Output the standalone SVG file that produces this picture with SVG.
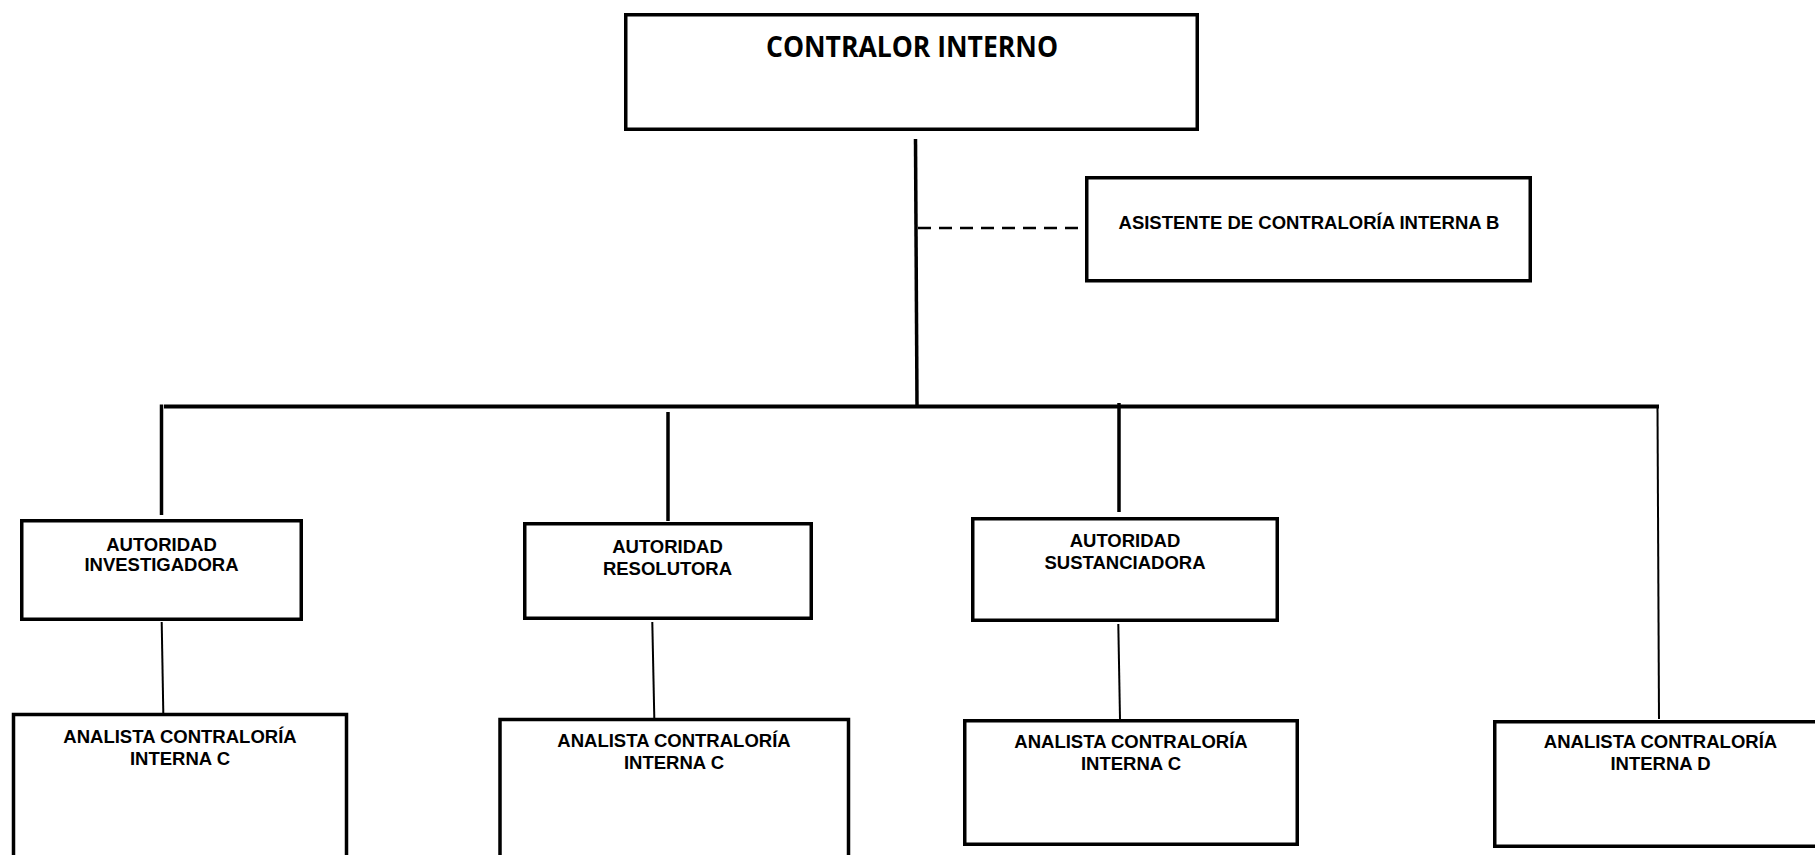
<svg xmlns="http://www.w3.org/2000/svg" width="1815" height="855" viewBox="0 0 1815 855">
<style>
.box{fill:#fff;stroke:#000;stroke-width:3.5}
.t{font-family:"Liberation Sans",Arial,sans-serif;font-weight:bold;font-size:18.5px;fill:#000;text-anchor:middle}
.title{font-family:"Open Sans",Lato,sans-serif;font-weight:bold;font-size:28.5px;fill:#000;text-anchor:middle}
.thick{stroke:#000;stroke-width:3.5;fill:none}
.thin{stroke:#000;stroke-width:2;fill:none}
.dash{stroke:#000;stroke-width:2.5;stroke-dasharray:13 8;fill:none}
</style>
<rect width="1815" height="855" fill="#fff"/>
<g id="connectors">
<line class="thick" x1="915.5" y1="139" x2="917" y2="407"/>
<line class="dash" x1="918" y1="228" x2="1078" y2="228"/>
<line x1="164" y1="406.5" x2="1659" y2="406.5" stroke="#000" stroke-width="4"/>
<line class="thick" x1="161.5" y1="404.5" x2="161.5" y2="515"/>
<line class="thick" x1="668" y1="412" x2="668" y2="521"/>
<line class="thick" x1="1119" y1="403" x2="1119" y2="512"/>
<line class="thin" x1="1657.5" y1="406" x2="1659" y2="719"/>
<line class="thin" x1="161.7" y1="622" x2="163.3" y2="713"/>
<line class="thin" x1="652.3" y1="622" x2="654.3" y2="718"/>
<line class="thin" x1="1118.3" y1="624" x2="1120" y2="719"/>
</g>
<g id="contralor">
<rect class="box" x="625.75" y="14.75" width="571.5" height="114.5"/>
<text class="title" x="912" y="57" textLength="292" lengthAdjust="spacingAndGlyphs">CONTRALOR INTERNO</text>
</g>
<g id="asistente">
<rect class="box" x="1086.75" y="177.75" width="443.5" height="103"/>
<text class="t" x="1309" y="229">ASISTENTE DE CONTRALORÍA INTERNA B</text>
</g>
<g id="investigadora">
<rect class="box" x="21.75" y="520.75" width="279.5" height="98.5"/>
<text class="t" x="161.5" y="550.5">AUTORIDAD</text>
<text class="t" x="161.5" y="570.5">INVESTIGADORA</text>
</g>
<g id="resolutora">
<rect class="box" x="524.75" y="523.75" width="286.5" height="94.5"/>
<text class="t" x="667.5" y="553">AUTORIDAD</text>
<text class="t" x="667.5" y="575">RESOLUTORA</text>
</g>
<g id="sustanciadora">
<rect class="box" x="972.75" y="518.75" width="304.5" height="101.5"/>
<text class="t" x="1125" y="547">AUTORIDAD</text>
<text class="t" x="1125" y="569">SUSTANCIADORA</text>
</g>
<g id="analista1">
<rect class="box" x="13.5" y="714.5" width="333" height="160"/>
<text class="t" x="180" y="742.5">ANALISTA CONTRALORÍA</text>
<text class="t" x="180" y="765">INTERNA C</text>
</g>
<g id="analista2">
<rect class="box" x="500" y="719.5" width="348.5" height="160"/>
<text class="t" x="674" y="747">ANALISTA CONTRALORÍA</text>
<text class="t" x="674" y="769">INTERNA C</text>
</g>
<g id="analista3">
<rect class="box" x="964.75" y="720.75" width="332.5" height="123.5"/>
<text class="t" x="1131" y="748">ANALISTA CONTRALORÍA</text>
<text class="t" x="1131" y="770">INTERNA C</text>
</g>
<g id="analistaD">
<rect class="box" x="1494.75" y="721.75" width="340" height="124.5"/>
<text class="t" x="1660.5" y="748">ANALISTA CONTRALORÍA</text>
<text class="t" x="1660.5" y="770">INTERNA D</text>
</g>
</svg>
